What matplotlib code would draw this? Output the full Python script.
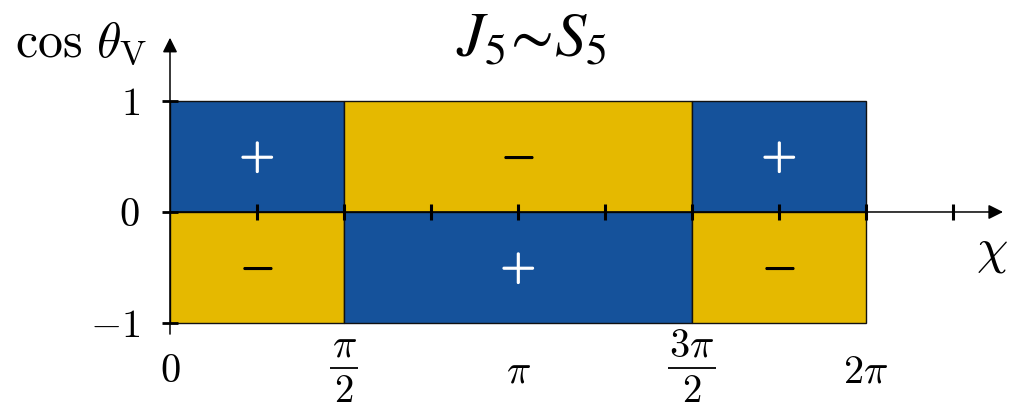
import numpy as np
import matplotlib
matplotlib.use("Agg")
import matplotlib.pyplot as plt
from matplotlib.patches import Rectangle
import matplotlib.patheffects as pe

plt.rcParams["mathtext.fontset"] = "cm"

# Sign pattern of J5 ~ S5 over chi in [0, 2pi], cos(theta_V) in [-1, 1]
chi_edges = [0, np.pi / 2, 3 * np.pi / 2, 2 * np.pi]
upper_signs = ["+", "-", "+"]
lower_signs = ["-", "+", "-"]
chi_ticks = [0, np.pi / 2, np.pi, 3 * np.pi / 2, 2 * np.pi]
# (numerator, denominator); denominator None for plain labels
chi_ticklabels = [("0", None), (r"\pi", "2"), (r"\pi", None), (r"3\pi", "2"), (r"2\pi", None)]
chi_minor = [k * np.pi / 4 for k in range(1, 10)]
cos_ticks = [1, 0, -1]
cos_ticklabels = [r"$1$", r"$0$", r"$-1$"]

BLUE = "#15529b"
YELLOW = "#e5b900"
cell_color = {"+": BLUE, "-": YELLOW}
mark_color = {"+": "white", "-": "black"}

fig = plt.figure(figsize=(10.17, 4.09), dpi=100)
ax = fig.add_axes([0, 0, 1, 1])
ax.set_xlim(-1.5346, 7.646)
ax.set_ylim(-1.775, 1.910)
ax.axis("off")

# Coloured cells with their sign
for i in range(len(chi_edges) - 1):
    x0, x1 = chi_edges[i], chi_edges[i + 1]
    for (y0, sgn) in ((0, upper_signs[i]), (-1, lower_signs[i])):
        ax.add_patch(Rectangle((x0, y0), x1 - x0, 1, facecolor=cell_color[sgn],
                               edgecolor="#111111", linewidth=1.0, zorder=1))
        ax.text((x0 + x1) / 2, y0 + 0.5, r"$+$" if sgn == "+" else r"$-$",
                color=mark_color[sgn], fontsize=33, ha="center", va="center", zorder=3,
                path_effects=[pe.withStroke(linewidth=0.9, foreground=mark_color[sgn])])

# Axes with arrows
ax.annotate("", xy=(7.52, 0), xytext=(0, 0),
            arrowprops=dict(arrowstyle="-|>", color="black", lw=1.1,
                            mutation_scale=22, shrinkA=0, shrinkB=0), zorder=4)
ax.annotate("", xy=(0, 1.57), xytext=(0, -1.1),
            arrowprops=dict(arrowstyle="-|>", color="black", lw=1.1,
                            mutation_scale=22, shrinkA=0, shrinkB=0), zorder=4)

# Tick marks crossing the axes
for t in chi_minor:
    ax.plot([t, t], [-0.07, 0.07], color="black", lw=2.2, zorder=5, solid_capstyle="butt")
for t in cos_ticks:
    ax.plot([-0.07, 0.07], [t, t], color="black", lw=2.0, zorder=5, solid_capstyle="butt")

# chi tick labels, fractions stacked by hand in display style
renderer = fig.canvas.get_renderer()
inv = ax.transData.inverted()
for t, (num, den) in zip(chi_ticks, chi_ticklabels):
    if den is None:
        ax.text(t, -1.532, f"${num}$", fontsize=29, ha="center", va="baseline")
        continue
    top = ax.text(t, -1.30, f"${num}$", fontsize=29, ha="center", va="baseline")
    ax.text(t, -1.715, f"${den}$", fontsize=28, ha="center", va="baseline")
    bb = top.get_window_extent(renderer)
    (xa, _), (xb, _) = inv.transform([(bb.x0 - 1.5, 0), (bb.x1 + 1.5, 0)])
    ax.plot([xa, xb], [-1.405, -1.405], color="black", lw=1.3, solid_capstyle="butt")

# cos(theta_V) tick labels
for t, lab in zip(cos_ticks, cos_ticklabels):
    ax.text(-0.27, t - 0.126, lab, fontsize=29, ha="right", va="baseline")

# Axis titles
ax.text(-0.80, 1.52, r"$\cos\,\theta_{\mathrm{V}}$", fontsize=36, ha="center", va="center")
ax.text(7.42, -0.35, r"$\chi$", fontsize=36, ha="center", va="center")

# Heading
ax.text(3.26, 1.56, r"$J_5\!\sim\! S_5$", fontsize=45, ha="center", va="center",
        math_fontfamily="stix")

fig.savefig("out.png", dpi=100)
